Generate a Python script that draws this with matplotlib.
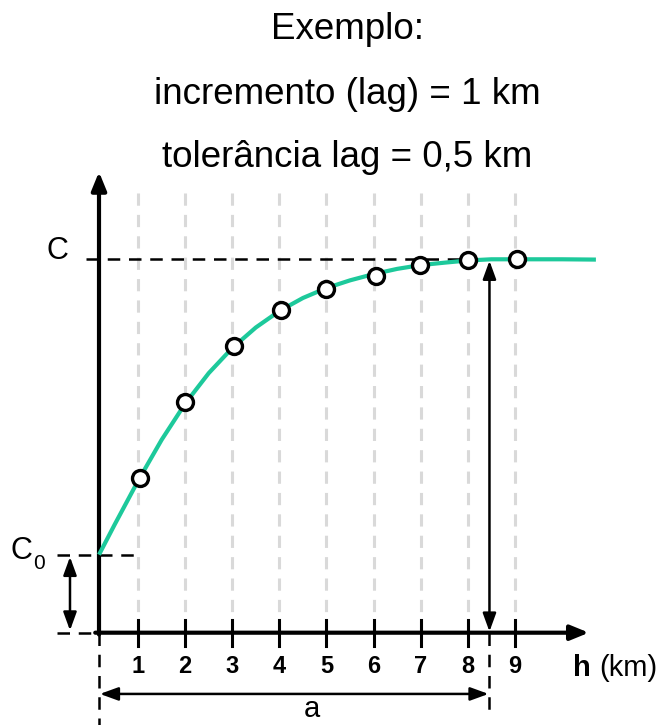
import matplotlib
matplotlib.use("Agg")
import matplotlib.pyplot as plt

# ---- data ----
lags = [1, 2, 3, 4, 5, 6, 7, 8, 9]
point_h = [1.04, 2.0, 3.04, 4.03, 4.98, 6.05, 6.98, 8.0, 9.05]
point_gamma = [0.4135, 0.617, 0.768, 0.864, 0.921, 0.956, 0.985, 0.998, 1.0]
curve_h = [0.17, 0.5, 1.0, 1.5, 2.0, 2.5, 3.0, 3.5, 4.0, 4.5, 5.0, 5.5,
           6.0, 6.5, 7.0, 7.5, 8.0, 8.5, 9.0, 10.0, 10.72]
curve_gamma = [0.2089, 0.2890, 0.4068, 0.5166, 0.6136, 0.6952, 0.7625, 0.8174,
               0.8615, 0.8964, 0.9231, 0.9436, 0.9604, 0.9743, 0.9845, 0.9909,
               0.9968, 1.0, 1.0, 1.0, 0.9992]
sill = 1.0
nugget = 0.209
range_a = 8.46
origin_h = 0.17
tick_labels = ["1", "2", "3", "4", "5", "6", "7", "8", "9"]
title_lines = ["Exemplo:", "incremento (lag) = 1 km", "tolerância lag = 0,5 km"]

plt.rcParams['font.family'] = ['Liberation Sans', 'DejaVu Sans']

fig = plt.figure(figsize=(6.61, 7.25), dpi=100)
ax = fig.add_axes([0, 0, 1, 1])
ax.set_xlim(-1.932, 12.102)
ax.set_ylim(-0.2472, 1.6944)
ax.axis('off')

GREEN = '#1dc99b'

# grey dashed verticals
for h in lags:
    ax.plot([h, h], [0, 1.178], color='#d9d9d9', lw=2.2, dashes=(4, 3), zorder=1)

# dashed reference lines
ax.plot([-0.11, range_a], [sill, sill], color='black', lw=1.8, dashes=(5, 3.5), zorder=2)
ax.plot([-0.72, 1.04], [nugget, nugget], color='black', lw=1.8, dashes=(5, 3.5), zorder=2)
ax.plot([-0.72, origin_h], [0, 0], color='black', lw=1.8, dashes=(5, 3.5), zorder=2)
ax.plot([origin_h, origin_h], [0, -0.2472], color='black', lw=1.8, dashes=(5, 3.5), zorder=2)
ax.plot([range_a, range_a], [0, -0.22], color='black', lw=1.8, dashes=(5, 3.5), zorder=2)

# axes with arrows
ax.annotate('', xy=(10.57, 0), xytext=(origin_h - 0.08, 0),
            arrowprops=dict(arrowstyle='-|>,head_length=1.1,head_width=0.45',
                            color='black', lw=3, shrinkA=0, shrinkB=0), zorder=3)
ax.annotate('', xy=(origin_h, 1.234), xytext=(origin_h, -0.005),
            arrowprops=dict(arrowstyle='-|>,head_length=1.1,head_width=0.45',
                            color='black', lw=3, shrinkA=0, shrinkB=0), zorder=3)

# ticks
for h, lab in zip(lags, tick_labels):
    ax.plot([h, h], [-0.035, 0.035], color='black', lw=2.2, zorder=3)
    ax.text(h, -0.090, lab, ha='center', va='center', fontsize=17, fontweight='bold')

# curve and points
ax.plot(curve_h, curve_gamma, color=GREEN, lw=3, zorder=4, solid_capstyle='butt',
        solid_joinstyle='round')
ax.plot(point_h, point_gamma, 'o', ms=11.5, mfc='white', mec='black', mew=2.4, zorder=5)

# double arrows
dbl = dict(arrowstyle='<|-|>,head_length=1.1,head_width=0.4', color='black', lw=1.8,
           shrinkA=0, shrinkB=0)
ax.annotate('', xy=(range_a, sill - 0.004), xytext=(range_a, 0.003), arrowprops=dbl, zorder=6)
ax.annotate('', xy=(-0.446, nugget - 0.006), xytext=(-0.446, 0.006), arrowprops=dbl, zorder=6)
ax.annotate('', xy=(origin_h + 0.02, -0.164), xytext=(range_a - 0.02, -0.164), arrowprops=dbl, zorder=6)

# labels
ax.text(-0.72, 1.022, 'C', ha='center', va='center', fontsize=22)
ax.text(-1.70, 0.2175, 'C', ha='left', va='center', fontsize=22)
ax.text(-1.231, 0.186, '0', ha='left', va='center', fontsize=15)
ax.text(4.68, -0.205, 'a', ha='center', va='center', fontsize=21)
ax.text(10.23, -0.094, 'h', ha='left', va='center', fontsize=21, fontweight='bold')
ax.text(10.80, -0.094, '(km)', ha='left', va='center', fontsize=21)

# title lines
for i, line in enumerate(title_lines):
    y = (632.7 - [30, 95, 158][i]) / 373.4
    ax.text(5.44, y, line, ha='center', va='center', fontsize=26.5)

fig.savefig('out.png', dpi=100)
